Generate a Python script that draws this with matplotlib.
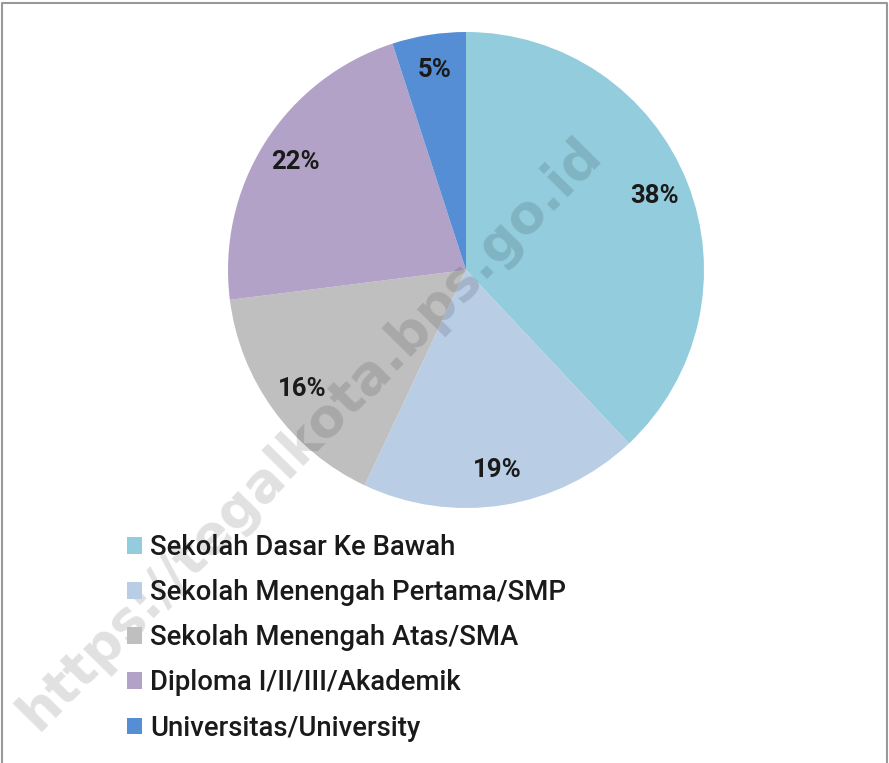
import numpy as np
import matplotlib.pyplot as plt
from matplotlib.lines import Line2D

labels = ['Sekolah Dasar Ke Bawah',
          'Sekolah Menengah Pertama/SMP',
          'Sekolah Menengah Atas/SMA',
          'Diploma I/II/III/Akademik',
          'Universitas/University']
values = [38, 19, 16, 22, 5]
colors = ['#93CDDD', '#B9CDE5', '#BFBFBF', '#B3A2C7', '#558ED5']

W, H = 889, 763
fig = plt.figure(figsize=(W / 100, H / 100), dpi=100)

# pie: centre (466, 270) px, radius 238 px
cx, cy, r = 466, 270, 238
ax = fig.add_axes([(cx - r) / W, 1 - (cy + r) / H, 2 * r / W, 2 * r / H])
wedges, texts, autotexts = ax.pie(
    values, colors=colors, startangle=90, counterclock=False,
    autopct='%d%%', pctdistance=0.85, radius=1,
    textprops=dict(family=['Roboto', 'DejaVu Sans'],
                   fontsize=18.5, fontweight='bold', color='#1a1a1a'))
ax.set_xlim(-1, 1)
ax.set_ylim(-1, 1)
ax.set_aspect('equal')
ax.axis('off')

leg = fig.legend(wedges, labels, loc='upper left',
                 bbox_to_anchor=(127 / W, 1 - 534 / H),
                 frameon=False, handlelength=0.55,
                 handleheight=0.55, handletextpad=0.28, labelspacing=0.66,
                 borderaxespad=0, borderpad=0,
                 prop=dict(family=['Roboto', 'DejaVu Sans'], size=19.8,
                           weight='medium'))
for t in leg.get_texts():
    t.set_color('#1a1a1a')

# watermark
fig.text(310 / W, 1 - 434 / H, 'https://tegalkota.bps.go.id',
         rotation=45.5, ha='center', va='center', fontsize=38.5,
         fontweight='bold', color='black', alpha=0.12,
         family='DejaVu Sans')

# outer border (left, top, right)
bx0, bx1, by = 2 / W, 1 - 2 / W, 1 - 3 / H
fig.add_artist(Line2D([bx0, bx0, bx1, bx1], [0, by, by, 0],
                      transform=fig.transFigure, color='#999999',
                      linewidth=1.5))

fig.savefig('out.png', dpi=100)
